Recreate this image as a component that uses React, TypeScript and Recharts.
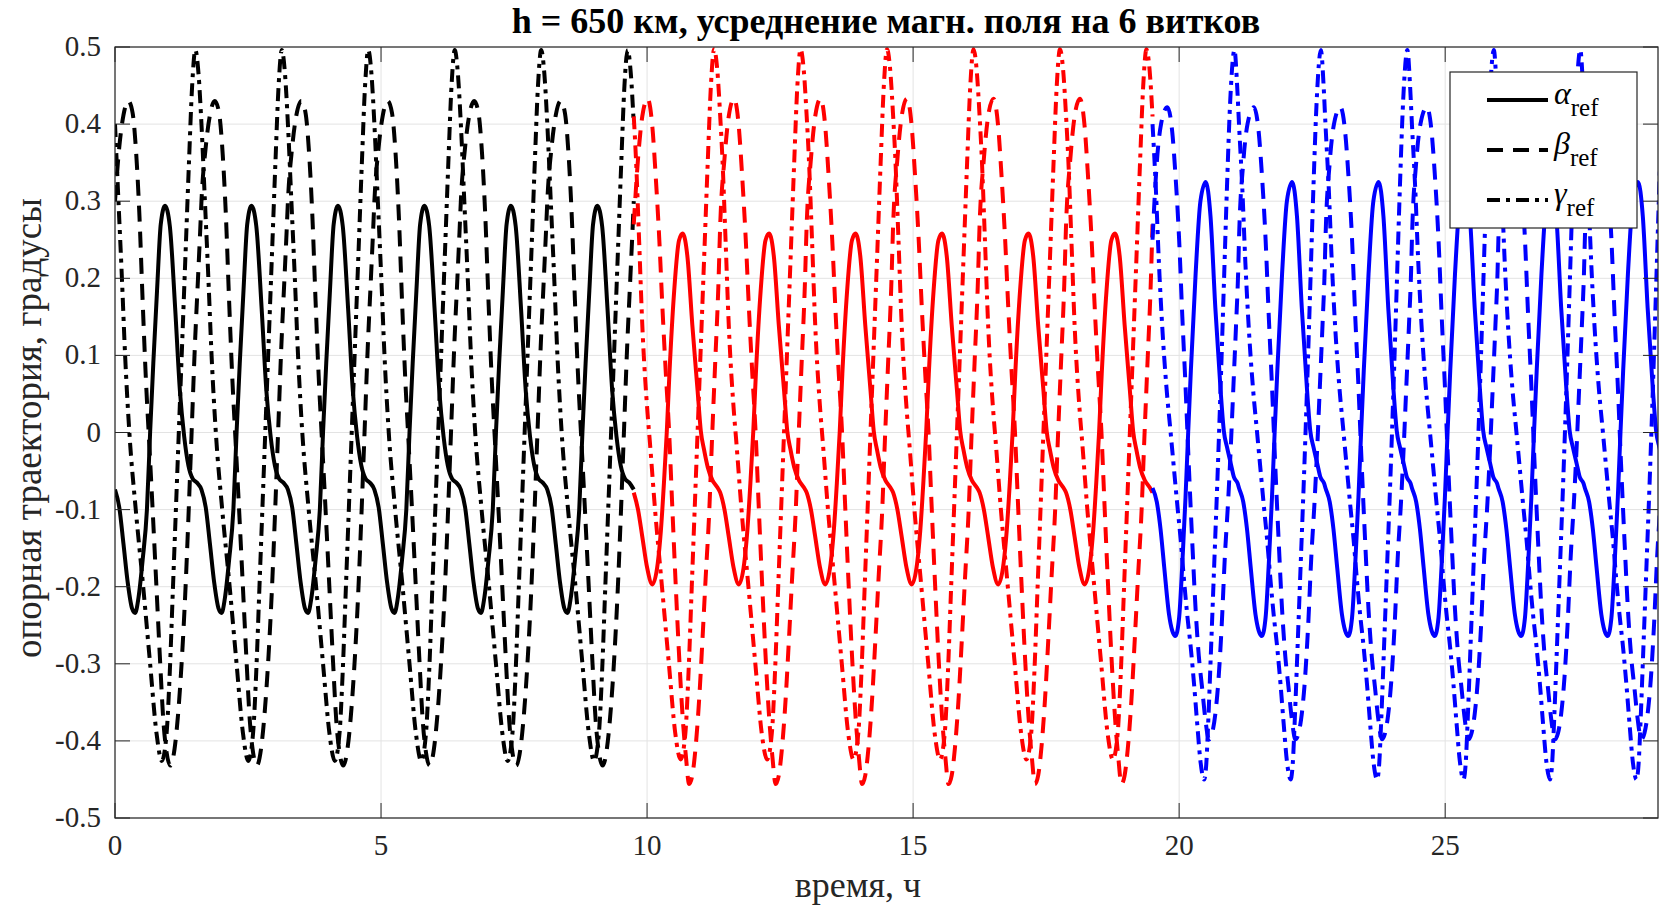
import React from 'react';
import { LineChart, Line, XAxis, YAxis, CartesianGrid } from 'recharts';

// one orbit of each angle, [phase within orbit (h), value (deg)]
type Pt = [number, number];

const PERIOD = 1.625;
const ORBITS = 6;
const SEGMENT_STARTS = [0, 9.75, 19.5];

const alphaBlack: Pt[] = [[0, -0.074], [0.08, -0.097], [0.16, -0.145], [0.24, -0.195], [0.32, -0.228], [0.38, -0.234], [0.44, -0.215], [0.52, -0.165], [0.6, -0.1], [0.66, 0.0], [0.72, 0.09], [0.79, 0.184], [0.86, 0.27], [0.94, 0.294], [1.03, 0.268], [1.13, 0.162], [1.22, 0.054], [1.3, -0.005], [1.38, -0.043], [1.46, -0.06], [1.54, -0.065]];
const betaBlack: Pt[] = [[0, 0.3], [0.08, 0.37], [0.16, 0.412], [0.25, 0.43], [0.33, 0.415], [0.4, 0.36], [0.46, 0.28], [0.52, 0.17], [0.58, 0.07], [0.64, -0.01], [0.7, -0.09], [0.79, -0.216], [0.85, -0.3], [0.91, -0.375], [0.97, -0.415], [1.04, -0.432], [1.12, -0.41], [1.18, -0.37], [1.26, -0.29], [1.32, -0.21], [1.38, -0.11], [1.44, 0.0], [1.5, 0.11], [1.56, 0.2], [1.6, 0.26]];
const gammaBlack: Pt[] = [[0, 0.4], [0.065, 0.3], [0.13, 0.2], [0.19, 0.1], [0.27, 0.0], [0.39, -0.1], [0.53, -0.2], [0.66, -0.3], [0.78, -0.39], [0.88, -0.426], [0.97, -0.39], [1.03, -0.31], [1.09, -0.2], [1.15, -0.09], [1.21, 0.02], [1.27, 0.13], [1.33, 0.24], [1.39, 0.35], [1.45, 0.45], [1.51, 0.496], [1.57, 0.465]];

const alphaRed: Pt[] = [[0, -0.078], [0.08, -0.1], [0.16, -0.135], [0.25, -0.175], [0.35, -0.197], [0.45, -0.17], [0.51, -0.127], [0.57, -0.062], [0.62, 0.0], [0.67, 0.076], [0.76, 0.184], [0.85, 0.249], [0.92, 0.258], [1.01, 0.227], [1.1, 0.14], [1.2, 0.054], [1.26, 0.002], [1.32, -0.022], [1.39, -0.045], [1.48, -0.062], [1.57, -0.071]];
const betaRed: Pt[] = [[0, 0.27], [0.08, 0.355], [0.16, 0.41], [0.26, 0.433], [0.35, 0.396], [0.41, 0.335], [0.48, 0.25], [0.54, 0.16], [0.6, 0.08], [0.665, 0.0], [0.72, -0.09], [0.79, -0.2], [0.86, -0.3], [0.93, -0.38], [0.98, -0.42], [1.04, -0.456], [1.1, -0.445], [1.16, -0.41], [1.23, -0.345], [1.29, -0.27], [1.35, -0.19], [1.42, -0.1], [1.47, -0.01], [1.53, 0.09], [1.59, 0.19]];
const gammaRed: Pt[] = [[0, 0.41], [0.04, 0.357], [0.1, 0.25], [0.16, 0.14], [0.26, 0.024], [0.3, -0.01], [0.4, -0.1], [0.53, -0.2], [0.66, -0.3], [0.78, -0.39], [0.88, -0.424], [0.97, -0.39], [1.03, -0.31], [1.09, -0.2], [1.15, -0.09], [1.21, 0.02], [1.27, 0.13], [1.33, 0.24], [1.39, 0.35], [1.45, 0.45], [1.51, 0.497], [1.57, 0.47]];

const alphaBlue: Pt[] = [[0, -0.072], [0.08, -0.09], [0.15, -0.125], [0.22, -0.175], [0.31, -0.236], [0.37, -0.257], [0.43, -0.264], [0.5, -0.24], [0.56, -0.17], [0.62, -0.084], [0.67, 0.0], [0.72, 0.08], [0.81, 0.206], [0.9, 0.3], [1.0, 0.325], [1.09, 0.28], [1.18, 0.162], [1.28, 0.054], [1.34, 0.002], [1.4, -0.019], [1.47, -0.04], [1.53, -0.058], [1.6, -0.066]];
const betaBlue: Pt[] = [[0, 0.25], [0.08, 0.35], [0.16, 0.4], [0.28, 0.422], [0.37, 0.39], [0.43, 0.335], [0.5, 0.25], [0.56, 0.15], [0.62, 0.06], [0.68, -0.04], [0.75, -0.147], [0.81, -0.23], [0.87, -0.29], [0.93, -0.33], [0.99, -0.37], [1.06, -0.398], [1.12, -0.39], [1.18, -0.365], [1.24, -0.32], [1.3, -0.25], [1.36, -0.16], [1.42, -0.09], [1.47, -0.02], [1.52, 0.06], [1.57, 0.14], [1.61, 0.21]];
const gammaBlue: Pt[] = [[0, 0.4], [0.06, 0.32], [0.12, 0.22], [0.18, 0.14], [0.26, 0.06], [0.34, 0.0], [0.4, -0.045], [0.46, -0.09], [0.53, -0.14], [0.59, -0.19], [0.65, -0.235], [0.72, -0.28], [0.78, -0.326], [0.84, -0.378], [0.9, -0.426], [0.97, -0.45], [1.01, -0.43], [1.05, -0.37], [1.1, -0.28], [1.16, -0.17], [1.22, -0.06], [1.28, 0.06], [1.34, 0.19], [1.4, 0.32], [1.46, 0.43], [1.54, 0.496], [1.59, 0.45]];

const xTicks = [0, 5, 10, 15, 20, 25];
const yTicks = [-0.5, -0.4, -0.3, -0.2, -0.1, 0, 0.1, 0.2, 0.3, 0.4, 0.5];
const yTickLabels = ['-0.5', '-0.4', '-0.3', '-0.2', '-0.1', '0', '0.1', '0.2', '0.3', '0.4', '0.5'];

const W = 1670;
const H = 910;
const PL = 115, PR = 1658, PT = 47, PB = 818;
const AXIS = '#262626';
const FONT = '"Liberation Serif", "Times New Roman", serif';

const DASHED = '16 10';
const DASHDOT = '13 6 4 6';
const LW = 4;

// repeat the orbit for the 6 orbits of one averaging interval
function tile(cycle: Pt[], start: number) {
  const out: { t: number; v: number }[] = [];
  for (let k = 0; k < ORBITS; k++) {
    for (const [p, v] of cycle) out.push({ t: start + k * PERIOD + p, v });
  }
  out.push({ t: start + ORBITS * PERIOD, v: cycle[0][1] });
  return out;
}

const series = [
  { id: 'a0', data: tile(alphaBlack, SEGMENT_STARTS[0]), color: '#000000', dash: undefined },
  { id: 'b0', data: tile(betaBlack, SEGMENT_STARTS[0]), color: '#000000', dash: DASHED },
  { id: 'g0', data: tile(gammaBlack, SEGMENT_STARTS[0]), color: '#000000', dash: DASHDOT },
  { id: 'a1', data: tile(alphaRed, SEGMENT_STARTS[1]), color: '#ff0000', dash: undefined },
  { id: 'b1', data: tile(betaRed, SEGMENT_STARTS[1]), color: '#ff0000', dash: DASHED },
  { id: 'g1', data: tile(gammaRed, SEGMENT_STARTS[1]), color: '#ff0000', dash: DASHDOT },
  { id: 'a2', data: tile(alphaBlue, SEGMENT_STARTS[2]), color: '#0000ff', dash: undefined },
  { id: 'b2', data: tile(betaBlue, SEGMENT_STARTS[2]), color: '#0000ff', dash: DASHED },
  { id: 'g2', data: tile(gammaBlue, SEGMENT_STARTS[2]), color: '#0000ff', dash: DASHDOT },
];

const XTick = (props: any) => {
  const { x, payload } = props;
  return (
    <g>
      <line x1={x} x2={x} y1={PB} y2={PB - 15} stroke={AXIS} strokeWidth={1} />
      <line x1={x} x2={x} y1={PT} y2={PT + 15} stroke={AXIS} strokeWidth={1} />
      <text x={x} y={855} textAnchor="middle" fontSize={29} fontFamily={FONT} fill={AXIS}>
        {payload.value}
      </text>
    </g>
  );
};

const YTick = (props: any) => {
  const { y, payload } = props;
  const i = yTicks.findIndex((t) => Math.abs(t - payload.value) < 1e-6);
  return (
    <g>
      <line x1={PL} x2={PL + 15} y1={y} y2={y} stroke={AXIS} strokeWidth={1} />
      <line x1={PR} x2={PR - 15} y1={y} y2={y} stroke={AXIS} strokeWidth={1} />
      <text x={101} y={y + 9} textAnchor="end" fontSize={29} fontFamily={FONT} fill={AXIS}>
        {i >= 0 ? yTickLabels[i] : payload.value}
      </text>
    </g>
  );
};

const legendRows = [
  { sym: 'α', dash: undefined },
  { sym: 'β', dash: DASHED },
  { sym: 'γ', dash: DASHDOT },
];

export default function App() {
  return (
    <div style={{ position: 'absolute', left: 0, top: 0, width: W, height: H, background: '#fff' }}>
      <LineChart width={W} height={H} margin={{ top: PT, right: W - PR, bottom: 0, left: 0 }}>
        <CartesianGrid stroke="#e3e3e3" strokeWidth={1} />
        <XAxis
          type="number"
          dataKey="t"
          domain={[0, 29]}
          ticks={xTicks}
          allowDataOverflow
          height={H - PB}
          axisLine={false}
          tickLine={false}
          tick={<XTick />}
          interval={0}
        />
        <YAxis
          type="number"
          domain={[-0.5, 0.5]}
          ticks={yTicks}
          allowDataOverflow
          width={PL}
          axisLine={false}
          tickLine={false}
          tick={<YTick />}
          interval={0}
        />
        {series.map((s) => (
          <Line
            key={s.id}
            data={s.data}
            dataKey="v"
            type="monotone"
            stroke={s.color}
            strokeWidth={LW}
            strokeDasharray={s.dash}
            dot={false}
            activeDot={false}
            isAnimationActive={false}
          />
        ))}
      </LineChart>

      <svg width={W} height={H} style={{ position: 'absolute', left: 0, top: 0, pointerEvents: 'none' }}>
        <rect x={PL} y={PT} width={PR - PL} height={PB - PT} fill="none" stroke={AXIS} strokeWidth={1.2} />
        <text x={886} y={33} textAnchor="middle" fontSize={36} fontWeight="bold" fontFamily={FONT} fill="#000">
          h = 650 км, усреднение магн. поля на 6 витков
        </text>
        <text x={858} y={897} textAnchor="middle" fontSize={36} fontFamily={FONT} fill={AXIS}>
          время, ч
        </text>
        <text
          x={0}
          y={0}
          transform={`translate(41, 428) rotate(-90)`}
          textAnchor="middle"
          fontSize={37}
          fontFamily={FONT}
          fill={AXIS}
        >
          опорная траектория, градусы
        </text>

        <rect x={1450} y={72} width={187} height={156} fill="#fff" stroke={AXIS} strokeWidth={1.2} />
        {legendRows.map((r, i) => {
          const y = 100 + i * 50;
          return (
            <g key={r.sym}>
              <line x1={1487} x2={1548} y1={y} y2={y} stroke="#000" strokeWidth={LW} strokeDasharray={r.dash} />
              <text x={1554} y={y + 4} fontSize={32} fontStyle="italic" fontFamily={FONT} fill="#000">
                {r.sym}
                <tspan dy={12} fontStyle="normal" fontSize={25}>ref</tspan>
              </text>
            </g>
          );
        })}
      </svg>
    </div>
  );
}
